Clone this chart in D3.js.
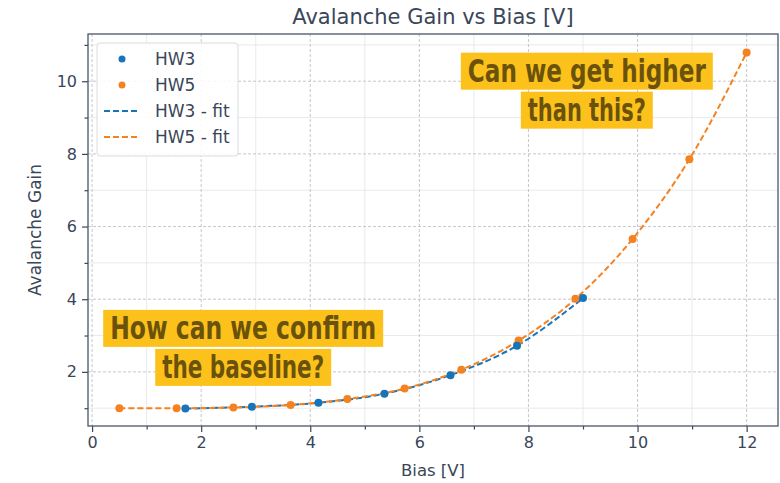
<!DOCTYPE html>
<html>
<head>
<meta charset="utf-8">
<script src="https://cdn.jsdelivr.net/npm/d3@7"></script>
<style>
  body { margin: 0; background: #fff; }
  svg { display: block; font-family: "DejaVu Sans", sans-serif; }
</style>
</head>
<body>
<div id="chart"></div>
<script>
// Avalanche gain vs bias, two devices plus their fits

var hw3Bias = [1.71, 2.93, 4.15, 5.36, 6.57, 7.79, 9.0];
var hw3Gain = [0.99, 1.04, 1.15, 1.40, 1.91, 2.72, 4.03];

var hw5Bias = [0.5, 1.55, 2.59, 3.64, 4.68, 5.73, 6.77, 7.82, 8.86, 9.91, 10.95, 12.0];
var hw5Gain = [1.0, 1.0, 1.02, 1.09, 1.25, 1.54, 2.06, 2.86, 4.01, 5.66, 7.85, 10.79];

var xTicks = [0, 2, 4, 6, 8, 10, 12];
var yTicks = [2, 4, 6, 8, 10];
var xMinor = [1, 3, 5, 7, 9, 11];
var yMinor = [1, 3, 5, 7, 9, 11];

var legendLabels = ['HW3', 'HW5', 'HW3 - fit', 'HW5 - fit'];
var notes = [
    { lines: ['How can we confirm', 'the baseline?'], x: 2.77, y: 2.66 },
    { lines: ['Can we get higher', 'than this?'], x: 9.07, y: 9.74 }
];

var width = 780, height = 483;
var margin = { top: 34, right: 2, bottom: 57, left: 88 };
var blue = '#1874b8', orange = '#f5821f';
var ink = '#3a4659';

var svg = d3.select('#chart').append('svg')
    .attr('width', width).attr('height', height);

var x = d3.scaleLinear().domain([-0.075, 12.575]).range([margin.left, width - margin.right]);
var y = d3.scaleLinear().domain([0.51, 11.3]).range([height - margin.bottom, margin.top]);

var plotTop = margin.top, plotBottom = height - margin.bottom;
var plotLeft = margin.left, plotRight = width - margin.right;

// minor grid
var grid = svg.append('g');
xMinor.forEach(function (v) {
    grid.append('line').attr('x1', x(v)).attr('x2', x(v)).attr('y1', plotTop).attr('y2', plotBottom)
        .attr('stroke', '#e3e5ea').attr('stroke-width', 0.8);
});
yMinor.forEach(function (v) {
    grid.append('line').attr('x1', plotLeft).attr('x2', plotRight).attr('y1', y(v)).attr('y2', y(v))
        .attr('stroke', '#e3e5ea').attr('stroke-width', 0.8);
});
// major grid
xTicks.forEach(function (v) {
    grid.append('line').attr('x1', x(v)).attr('x2', x(v)).attr('y1', plotTop).attr('y2', plotBottom)
        .attr('stroke', '#b5b9c2').attr('stroke-width', 0.8).attr('stroke-dasharray', '3,2');
});
yTicks.forEach(function (v) {
    grid.append('line').attr('x1', plotLeft).attr('x2', plotRight).attr('y1', y(v)).attr('y2', y(v))
        .attr('stroke', '#b5b9c2').attr('stroke-width', 0.8).attr('stroke-dasharray', '3,2');
});

// axes
svg.append('g')
    .attr('transform', 'translate(0,' + plotBottom + ')')
    .call(d3.axisBottom(x).tickValues(xTicks).tickSize(6).tickPadding(5).tickFormat(d3.format('d')));
svg.append('g')
    .attr('transform', 'translate(0,' + plotBottom + ')')
    .call(d3.axisBottom(x).tickValues(xMinor).tickSize(3.5).tickFormat(''));
svg.append('g')
    .attr('transform', 'translate(' + plotLeft + ',0)')
    .call(d3.axisLeft(y).tickValues(yTicks).tickSize(6).tickPadding(5).tickFormat(d3.format('d')));
svg.append('g')
    .attr('transform', 'translate(' + plotLeft + ',0)')
    .call(d3.axisLeft(y).tickValues(yMinor).tickSize(3.5).tickFormat(''));

svg.selectAll('.domain').remove();
svg.selectAll('.tick line').attr('stroke', ink).attr('stroke-width', 1.2);
svg.selectAll('.tick text').attr('fill', ink).attr('font-size', '16px')
    .attr('font-family', '"DejaVu Sans", sans-serif');

// frame
svg.append('rect').attr('x', plotLeft).attr('y', plotTop)
    .attr('width', plotRight - plotLeft).attr('height', plotBottom - plotTop)
    .attr('fill', 'none').attr('stroke', '#4a5568').attr('stroke-width', 1.3);

// fit lines
var line = d3.line().curve(d3.curveMonotoneX);
svg.append('path')
    .attr('d', line(hw3Bias.map(function (b, i) { return [x(b), y(hw3Gain[i])]; })))
    .attr('fill', 'none').attr('stroke', blue).attr('stroke-width', 2).attr('stroke-dasharray', '6,3');
svg.append('path')
    .attr('d', line(hw5Bias.map(function (b, i) { return [x(b), y(hw5Gain[i])]; })))
    .attr('fill', 'none').attr('stroke', orange).attr('stroke-width', 2).attr('stroke-dasharray', '6,3');

// points
svg.append('g').selectAll('circle')
    .data(hw5Bias.map(function (b, i) { return [b, hw5Gain[i]]; }))
    .join('circle')
    .attr('cx', function (d) { return x(d[0]); })
    .attr('cy', function (d) { return y(d[1]); })
    .attr('r', 4).attr('fill', orange);
svg.append('g').selectAll('circle')
    .data(hw3Bias.map(function (b, i) { return [b, hw3Gain[i]]; }))
    .join('circle')
    .attr('cx', function (d) { return x(d[0]); })
    .attr('cy', function (d) { return y(d[1]); })
    .attr('r', 4).attr('fill', blue);

// title and labels
svg.append('text').attr('x', 433).attr('y', 24).attr('text-anchor', 'middle')
    .attr('fill', ink).attr('font-size', '21px').text('Avalanche Gain vs Bias [V]');
svg.append('text').attr('x', 433).attr('y', 476).attr('text-anchor', 'middle')
    .attr('fill', ink).attr('font-size', '16.5px').text('Bias [V]');
svg.append('text').attr('transform', 'translate(41,' + ((plotTop + plotBottom) / 2) + ') rotate(-90)')
    .attr('text-anchor', 'middle').attr('fill', ink).attr('font-size', '17px').text('Avalanche Gain');

// legend
var lg = svg.append('g').attr('transform', 'translate(97,43)');
lg.append('rect').attr('width', 141).attr('height', 113).attr('rx', 3)
    .attr('fill', '#fff').attr('fill-opacity', 0.85).attr('stroke', '#d8dbe0');
var legendColors = [blue, orange, blue, orange];
legendLabels.forEach(function (lab, i) {
    var cy = 16 + i * 26;
    if (i < 2) {
        lg.append('circle').attr('cx', 25).attr('cy', cy).attr('r', 3.5).attr('fill', legendColors[i]);
    } else {
        lg.append('line').attr('x1', 7).attr('x2', 42).attr('y1', cy).attr('y2', cy)
            .attr('stroke', legendColors[i]).attr('stroke-width', 2).attr('stroke-dasharray', '6,3');
    }
    lg.append('text').attr('x', 58).attr('y', cy + 6).attr('fill', ink)
        .attr('font-size', '17px').text(lab);
});

// annotations
var noteW = [[280, 176], [252, 132]];
notes.forEach(function (n, k) {
    var g = svg.append('g');
    n.lines.forEach(function (t, j) {
        var cy = y(n.y) + (j - 0.5) * 39;
        var w = noteW[k][j];
        g.append('rect').attr('x', x(n.x) - w / 2).attr('y', cy - 18.5)
            .attr('width', w).attr('height', 37).attr('fill', '#fcc21b');
        g.append('text').attr('x', x(n.x)).attr('y', cy + 11).attr('text-anchor', 'middle')
            .attr('font-family', '"DejaVu Sans Condensed", "Liberation Sans Narrow", sans-serif')
            .attr('font-weight', 'bold').attr('font-size', '32px')
            .attr('textLength', w - 14).attr('lengthAdjust', 'spacingAndGlyphs')
            .attr('fill', '#6a520c').text(t);
    });
});
</script>
</body>
</html>
